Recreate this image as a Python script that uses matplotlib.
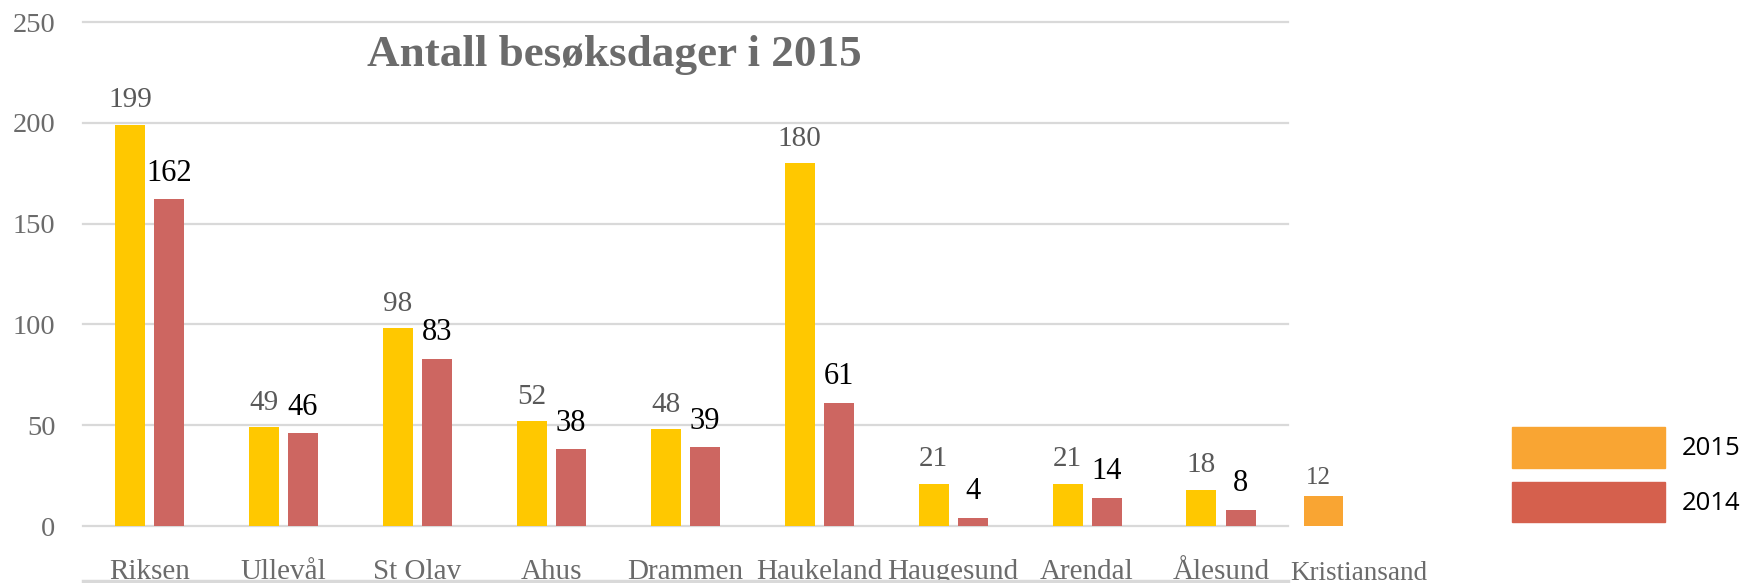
import numpy as np
import matplotlib
matplotlib.use("Agg")
import matplotlib.pyplot as plt
from matplotlib.patches import Patch

# data
sites = ["Riksen", "Ullevål", "St Olav", "Ahus", "Drammen",
         "Haukeland", "Haugesund", "Arendal", "Ålesund"]
days_2015 = [199, 49, 98, 52, 48, 180, 21, 21, 18]
days_2014 = [162, 46, 83, 38, 39, 61, 4, 14, 8]
extra_site = "Kristiansand"
extra_bar = 15      # height as drawn
extra_label = 12    # number printed above it
yticks = [0, 50, 100, 150, 200, 250]

YELLOW = "#FFC800"
RED = "#CD6661"
ORANGE = "#F9A533"
LEG_RED = "#D5604D"
GRID = "#D9D9D9"
GRAY = "#6B6B6B"
LABEL_GRAY = "#595959"
SERIF = ["Liberation Serif", "DejaVu Serif"]

W, H = 1745, 583
fig = plt.figure(figsize=(W / 100, H / 100), dpi=100)
ax = fig.add_axes([82.5 / W, 1 - 526 / H, 1205.5 / W, 504 / H])

x = np.arange(len(sites))
bw = 0.224
off = 0.146
ax.bar(x - off, days_2015, bw, color=YELLOW, zorder=2)
ax.bar(x + off, days_2014, bw, color=RED, zorder=2)
ax.set_xlim(-0.5, len(sites) - 0.5)
ax.set_ylim(0, 250)

# gridlines (drawn unclipped so the edge lines show in full)
for t in yticks:
    ax.axhline(t, color=GRID, lw=1.6, zorder=0, clip_on=False)

for v, xi in zip(days_2015, x - off):
    ax.annotate(str(v), (xi, v), xytext=(0, 12.5), textcoords="offset points",
                ha="center", va="baseline", fontsize=21, color=LABEL_GRAY,
                family=SERIF)
for v, xi in zip(days_2014, x + off):
    ax.annotate(str(v), (xi, v), xytext=(0, 13.5), textcoords="offset points",
                ha="center", va="baseline", fontsize=22, color="black",
                family=SERIF)

# the odd extra bar outside the plot area
kx = len(sites) - 0.235
ax.bar([kx], [extra_bar], 0.284, color=ORANGE, zorder=2, clip_on=False)
ax.annotate(str(extra_label), (kx - 0.04, extra_bar), xytext=(0, 8.5),
            textcoords="offset points", ha="center", va="baseline",
            fontsize=18, color=LABEL_GRAY, family=SERIF, annotation_clip=False)

# category labels
trans = ax.get_xaxis_transform()
for xi, s in zip(x, sites):
    ax.text(xi, -0.105, s, transform=trans, ha="center", va="baseline",
            fontsize=21, color=GRAY, family=SERIF, clip_on=False)
ax.text(len(sites) + 0.03, -0.107, extra_site, transform=trans, ha="center",
        va="baseline", fontsize=19.5, color=GRAY, family=SERIF, clip_on=False)

# light strip along the bottom edge
ax.plot([0, 1], [-0.109, -0.109], transform=ax.transAxes, color=GRID, lw=2.5,
        clip_on=False, zorder=5)

ax.set_xticks([])
ax.set_yticks(yticks)
ax.tick_params(axis="y", length=0, pad=19.5, labelsize=20.5, labelcolor=GRAY)
for lab in ax.get_yticklabels():
    lab.set_family(SERIF)
for sp in ax.spines.values():
    sp.set_visible(False)

fig.text(614 / W, 1 - 66 / H, "Antall besøksdager i 2015", ha="center",
         va="baseline", fontsize=32.5, fontweight="bold", color=GRAY, family=SERIF)

handles = [Patch(color=ORANGE, label="2015"), Patch(color=LEG_RED, label="2014")]
fig.legend(handles=handles, loc="upper left", bbox_to_anchor=(1512 / W, 1 - 427 / H),
           frameon=False, borderpad=0, borderaxespad=0, handlelength=5.95,
           handleheight=2.05, labelspacing=0.55, handletextpad=0.66,
           prop={"family": "Open Sans", "size": 18.5})

fig.savefig("out.png", dpi=100)
